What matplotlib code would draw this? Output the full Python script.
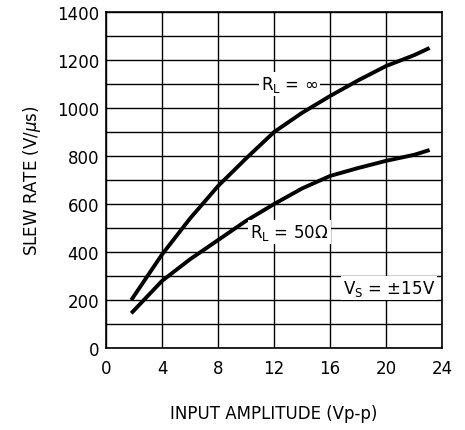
import matplotlib
matplotlib.use("Agg")
import matplotlib.pyplot as plt

# Slew rate vs input amplitude
AMP = [1.8, 4, 6, 8, 10, 12, 14, 16, 18, 20, 22, 23.1]
SR_INF = [200, 390, 540, 675, 790, 900, 980, 1050, 1115, 1175, 1220, 1250]
SR_50 = [145, 280, 370, 450, 530, 600, 665, 717, 750, 780, 805, 825]

X_TICKS = [0, 4, 8, 12, 16, 20, 24]
Y_TICKS = [0, 200, 400, 600, 800, 1000, 1200, 1400]

plt.rcParams["font.family"] = "DejaVu Sans"

fig = plt.figure(figsize=(4.65, 4.31), dpi=100)
ax = fig.add_axes([0.228, 0.190, 0.723, 0.780])

ax.plot(AMP, SR_INF, color="black", linewidth=2.8, solid_capstyle="butt", zorder=3)
ax.plot(AMP, SR_50, color="black", linewidth=2.8, solid_capstyle="butt", zorder=3)

ax.set_xlim(0, 24)
ax.set_ylim(0, 1400)
ax.set_xticks(X_TICKS)
ax.set_yticks(Y_TICKS)
ax.set_yticks(range(100, 1400, 200), minor=True)
ax.grid(True, which="both", color="black", linewidth=1.0)
ax.tick_params(which="both", length=0, labelsize=12, pad=8)
ax.tick_params(axis="y", pad=5)
for s in ax.spines.values():
    s.set_linewidth(1.2)

box = dict(facecolor="white", edgecolor="none", pad=1.5)
ax.text(13.1, 1100, r"R$_\mathregular{L}$ = $\infty$", fontsize=12, ha="center", va="center",
        bbox=box, zorder=4)
ax.text(13.1, 485, r"R$_\mathregular{L}$ = 50$\Omega$", fontsize=12, ha="center", va="center",
        bbox=box, zorder=4)
ax.text(20.2, 250, r"V$_\mathregular{S}$ = $\pm$15V", fontsize=12, ha="center", va="center",
        bbox=box, zorder=4)

ax.set_xlabel("INPUT AMPLITUDE (Vp-p)", fontsize=12, labelpad=19)
ax.set_ylabel(r"SLEW RATE (V/$\mu$s)", fontsize=12, labelpad=10)

fig.savefig("out.png", dpi=100)
plt.close(fig)
